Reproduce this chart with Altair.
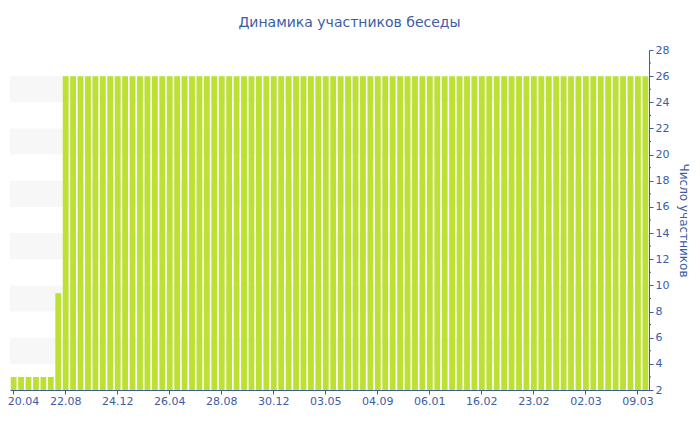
import altair as alt
import pandas as pd

# ---- data ----
tick_labels = ["20.04", "22.08", "24.12", "26.04", "28.08", "30.12", "03.05",
               "04.09", "06.01", "16.02", "23.02", "02.03", "09.03"]
tick_index = [0, 7, 14, 21, 28, 35, 42, 49, 56, 63, 70, 77, 84]
values = [3, 3, 3, 3, 3, 3, 9.4,
          26, 26, 26, 26, 26, 26, 26, 26, 26, 26,
          26, 26, 26, 26, 26, 26, 26, 26, 26, 26,
          26, 26, 26, 26, 26, 26, 26, 26, 26, 26,
          26, 26, 26, 26, 26, 26, 26, 26, 26, 26,
          26, 26, 26, 26, 26, 26, 26, 26, 26, 26,
          26, 26, 26, 26, 26, 26, 26, 26, 26, 26,
          26, 26, 26, 26, 26, 26, 26, 26, 26, 26,
          26, 26, 26, 26, 26, 26, 26, 26, 26]
y_ticks = [2, 4, 6, 8, 10, 12, 14, 16, 18, 20, 22, 24, 26, 28]
minor_ticks = [3, 5, 7, 9, 11, 13, 15, 17, 19, 21, 23, 25, 27]
stripe_lo = [4, 8, 12, 16, 20, 24]
stripe_hi = [6, 10, 14, 18, 22, 26]

W, H = 639, 340
BLUE = "#3d5ca6"
GREEN = "#bce034"
FONT = "DejaVu Sans"

df = pd.DataFrame({"i": list(range(len(values))), "v": values})
stripes = pd.DataFrame({"lo": stripe_lo, "hi": stripe_hi})
minors = pd.DataFrame({"m": minor_ticks})

label_map = "{" + ",".join(f"'{i}':'{t}'" for i, t in zip(tick_index, tick_labels)) + "}"

yscale = alt.Scale(domain=[2, 28], nice=False, zero=False)
yaxis = alt.Axis(orient="right", values=y_ticks, title="Число участников",
                 titleColor=BLUE, titleFont=FONT, titleFontSize=12,
                 titleFontWeight="normal", titlePadding=8,
                 domainColor=BLUE, tickColor=BLUE, labelColor=BLUE,
                 labelFont=FONT, labelFontSize=11, tickSize=4,
                 labelPadding=2, grid=False)

stripe_layer = alt.Chart(stripes).mark_rect(color="#f7f7f7").encode(
    x=alt.value(0), x2=alt.value(W),
    y=alt.Y("lo:Q", scale=yscale, axis=yaxis),
    y2="hi:Q",
)

bars = alt.Chart(df).mark_bar(color=GREEN).encode(
    x=alt.X("i:O",
            scale=alt.Scale(paddingInner=0.22, paddingOuter=0.1),
            axis=alt.Axis(values=tick_index, labelExpr=f"{label_map}[datum.value]",
                          labelAngle=0, title=None, domainColor=BLUE, tickColor=BLUE,
                          labelColor=BLUE, labelFont=FONT, labelFontSize=11,
                          labelAlign={"condition": {"test": "datum.value == 0", "value": "left"},
                                      "value": "center"},
                          labelOffset={"condition": {"test": "datum.value == 0", "value": -6},
                                       "value": 0},
                          tickSize=4, labelPadding=1, grid=False)),
    y=alt.Y("v:Q", scale=yscale, axis=yaxis),
    y2=alt.datum(2),
)

minor_layer = alt.Chart(minors).mark_rule(color=BLUE, strokeWidth=1).encode(
    x=alt.value(W), x2=alt.value(W + 2),
    y=alt.Y("m:Q", scale=yscale, axis=yaxis),
)

chart = alt.layer(stripe_layer, bars, minor_layer).properties(
    width=W, height=H,
    title=alt.TitleParams("Динамика участников беседы", font=FONT, fontSize=14,
                          fontWeight="normal", color=BLUE, offset=14, anchor="middle",
                          dx=20),
    autosize=alt.AutoSizeParams(type="none"),
    padding={"left": 2, "top": 42, "right": 43, "bottom": 32},
    background="white",
).configure_view(stroke=None)

chart.save("out.html", embed_options={"renderer": "svg", "actions": False})
